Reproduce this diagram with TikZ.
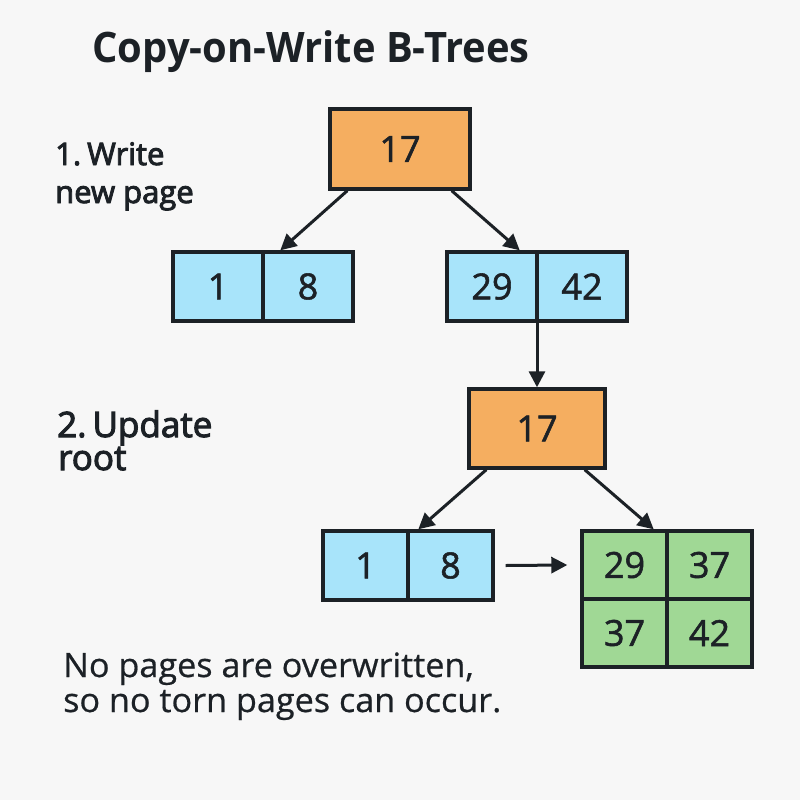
\documentclass[tikz,border=0pt]{standalone}
\usepackage{fontspec}
\setmainfont{Open Sans}
\newfontfamily\semifont{Open Sans}[FakeBold=3]
\newfontfamily\numfont{Open Sans}[FakeBold=1.5]
\newfontfamily\notefont{Open Sans}[FakeStretch=1.02, FakeBold=0.6]
\newfontfamily\titlefont{Open Sans}[FakeStretch=0.95]
\usetikzlibrary{arrows.meta}
\definecolor{bg}{HTML}{F7F7F7}
\definecolor{ink}{HTML}{1C2126}
\definecolor{orangebox}{HTML}{F5AE60}
\definecolor{bluebox}{HTML}{A8E4FA}
\definecolor{greenbox}{HTML}{A0D895}
\tikzset{
  cell/.style={draw=ink, line width=3.4pt, inner sep=0pt, text=ink,
    font=\numfont\fontsize{36}{40}\selectfont},
  rootbox/.style={cell, fill=orangebox, minimum width=140pt, minimum height=80pt},
  bluecell/.style={cell, fill=bluebox},
  greencell/.style={cell, fill=greenbox, minimum width=85pt, minimum height=68pt},
  link/.style={draw=ink, line width=3pt, -{Triangle[length=16pt,width=16pt]}},
  label/.style={text=ink, inner sep=0pt, anchor=base west, font=\semifont\fontsize{31}{38}\selectfont},
  labelbig/.style={label, font=\semifont\fontsize{35}{38}\selectfont},
  note/.style={text=ink, inner sep=0pt, anchor=base west, font=\notefont\fontsize{33.5}{35}\selectfont}
}
\begin{document}
\begin{tikzpicture}[x=1pt,y=-1pt]
\fill[bg] (0,0) rectangle (800,800);
\useasboundingbox (0,0) rectangle (800,800);
% title
\node[text=ink, inner sep=0pt, anchor=base, font=\titlefont\bfseries\fontsize{42}{48}\selectfont] (title) at (311,63) {Copy-on-Write B-Trees};
% labels
\node[label] (lab1a) at (55,165) {1.\kern6pt Write};
\node[label] (lab1b) at (55,203) {new page};
\node[labelbig] (lab2a) at (57,437) {2.\kern6pt Update};
\node[labelbig] (lab2b) at (58,470) {root};
\node[note] (note1) at (63,677) {No pages are overwritten,};
\node[note] (note2) at (63,712) {so no torn pages can occur.};
% tree 1
\node[rootbox] (r1) at (400,149) {17};
\node[bluecell, minimum width=90pt, minimum height=69pt] (l1a) at (218,286.5) {1};
\node[bluecell, minimum width=90pt, minimum height=69pt] (l1b) at (308,286.5) {8};
\node[bluecell, minimum width=90pt, minimum height=69pt] (l1c) at (492,286.5) {29};
\node[bluecell, minimum width=90pt, minimum height=69pt] (l1d) at (582,286.5) {42};
% tree 2
\node[rootbox, minimum width=136pt, minimum height=79pt] (r2) at (537,428.5) {17};
\node[bluecell, minimum width=85pt, minimum height=69pt] (l2a) at (365.5,565.5) {1};
\node[bluecell, minimum width=85pt, minimum height=69pt] (l2b) at (450.5,565.5) {8};
\node[greencell] (g1) at (624.5,565) {29};
\node[greencell] (g2) at (709.5,565) {37};
\node[greencell] (g3) at (624.5,633) {37};
\node[greencell] (g4) at (709.5,633) {42};
% connectors
\draw[link] ([xshift=19pt]r1.south west) -- ([xshift=19pt]l1b.north west);
\draw[link] ([xshift=-20pt]r1.south east) -- ([xshift=-19pt]l1c.north east);
\draw[link] (r2.north |- l1c.south) -- (r2.north);
\draw[link] ([xshift=19pt]r2.south west) -- ([xshift=12pt]l2b.north west);
\draw[link] ([xshift=-22pt]r2.south east) -- ([xshift=-15pt]g1.north east);
\draw[link] ([xshift=11pt]l2b.east) -- ([xshift=-13pt]g1.west);
\end{tikzpicture}
\end{document}
